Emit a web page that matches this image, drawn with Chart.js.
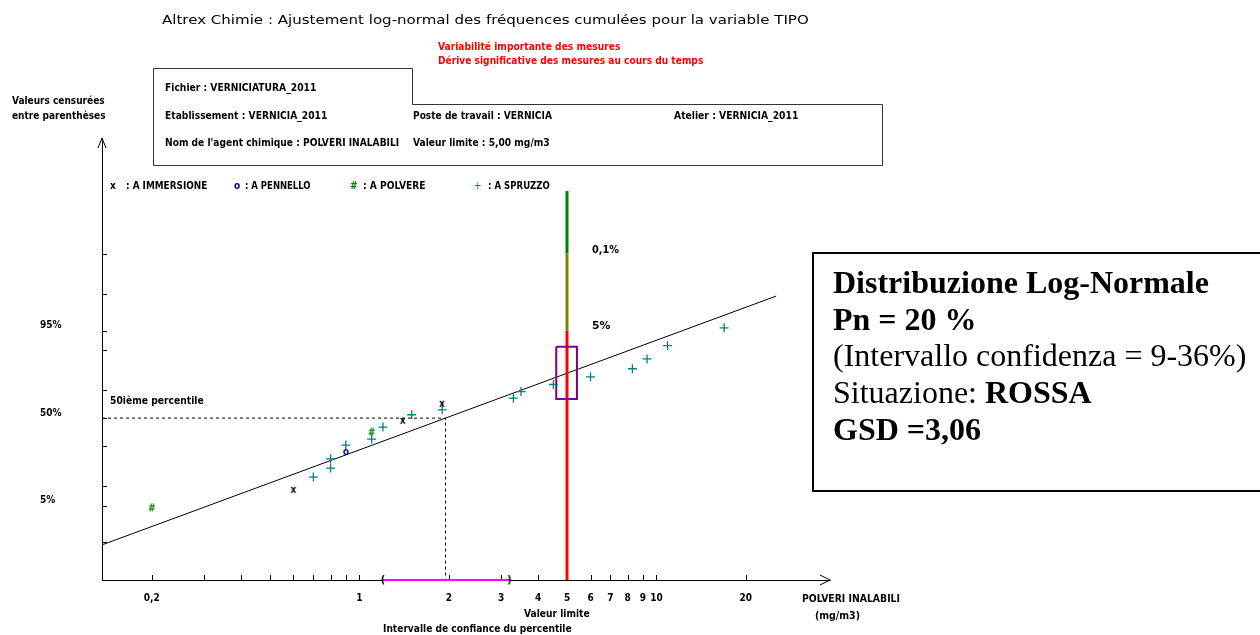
<!DOCTYPE html>
<html lang="fr">
<head>
<meta charset="utf-8">
<title>Altrex Chimie - Ajustement log-normal TIPO</title>
<script src="https://cdn.jsdelivr.net/npm/chart.js@4.4.0/dist/chart.umd.min.js"></script>
<style>
  body { margin: 0; width: 1260px; height: 635px; overflow: hidden; background: #fff; position: relative;
         font-family: "DejaVu Sans Condensed", "DejaVu Sans", sans-serif; }
  #chart { position: absolute; left: 0; top: 0; }
  .t { position: absolute; white-space: nowrap; font-size: 10px; font-weight: bold; line-height: 12px;
       color: #000; transform-origin: 0 50%; }
  .title { font-family: "DejaVu Sans", sans-serif; font-weight: normal; font-size: 13px; line-height: 16px; }
  .red { color: #ff0000; }
  #infobox { position: absolute; left: 0; top: 0; }
  #resume { position: absolute; left: 812px; top: 252px; width: 470px; height: 240px; border: 2px solid #000;
            font-family: "Liberation Serif", "Times New Roman", serif; font-size: 32px; line-height: 36.7px;
            padding: 10px 0 0 19px; box-sizing: border-box; color: #000; }
  #resume b { font-weight: bold; }
</style>
</head>
<body>
<canvas id="chart" width="1260" height="635"></canvas>

<svg id="infobox" width="1260" height="200">
  <polyline points="153.5,165.5 153.5,68.5 412.5,68.5 412.5,104.5 882.5,104.5 882.5,165.5 153.5,165.5"
            fill="none" stroke="#333" stroke-width="1"/>
</svg>

<div class="t title" style="left:162px; top:20px" data-w="646">Altrex Chimie : Ajustement log-normal des fréquences cumulées pour la variable TIPO</div>
<div class="t red" style="left:438px; top:47px" data-w="182">Variabilité importante des mesures</div>
<div class="t red" style="left:438px; top:61px" data-w="265">Dérive significative des mesures au cours du temps</div>

<div class="t" style="left:12px; top:101px" data-w="93">Valeurs censurées</div>
<div class="t" style="left:12px; top:116px" data-w="94">entre parenthèses</div>

<div class="t" style="left:165px; top:88px" data-w="151">Fichier : VERNICIATURA_2011</div>
<div class="t" style="left:165px; top:116px" data-w="162">Etablissement : VERNICIA_2011</div>
<div class="t" style="left:413px; top:116px" data-w="139">Poste de travail : VERNICIA</div>
<div class="t" style="left:674px; top:116px" data-w="124">Atelier : VERNICIA_2011</div>
<div class="t" style="left:165px; top:143px" data-w="234">Nom de l'agent chimique : POLVERI INALABILI</div>
<div class="t" style="left:413px; top:143px" data-w="137">Valeur limite : 5,00 mg/m3</div>

<div class="t" style="left:110px; top:186px">x</div>
<div class="t" style="left:126px; top:186px" data-w="81">: A IMMERSIONE</div>
<div class="t" style="left:234px; top:186px; color:#000080">o</div>
<div class="t" style="left:245px; top:186px" data-w="66">: A PENNELLO</div>
<div class="t" style="left:350px; top:186px; color:#008000">#</div>
<div class="t" style="left:363px; top:186px" data-w="63">: A POLVERE</div>
<div class="t" style="left:474px; top:186px; color:#008080; font-weight:normal">+</div>
<div class="t" style="left:488px; top:186px" data-w="62">: A SPRUZZO</div>

<div class="t" style="left:110px; top:401px" data-w="94">50ième percentile</div>
<div class="t" style="left:592px; top:250px" data-w="27">0,1%</div>
<div class="t" style="left:592px; top:326px" data-w="18">5%</div>

<div class="t" style="left:802px; top:599px" data-w="98">POLVERI INALABILI</div>
<div class="t" style="left:815px; top:616px" data-w="45">(mg/m3)</div>
<div class="t" style="left:524px; top:614px" data-w="66">Valeur limite</div>
<div class="t" style="left:383px; top:629px" data-w="189">Intervalle de confiance du percentile</div>

<div id="resume">
  <b>Distribuzione Log-Normale</b><br>
  <b>Pn = 20 %</b><br>
  (Intervallo confidenza = 9-36%)<br>
  Situazione: <b>ROSSA</b><br>
  <b>GSD =3,06</b>
</div>

<script>
// Measured concentrations (mg/m3) and cumulative frequencies (%) per work phase
const immersioneConc = [0.60, 1.4, 1.9];
const immersionePct = [8.9, 48.0, 60.6];
const pennelloConc = [0.90];
const pennelloPct = [26.2];
const polvereConc = [0.20, 1.1];
const polverePct = [4.5, 39.3];
const spruzzoConc = [0.70, 0.80, 0.80, 0.90, 1.1, 1.2, 1.5, 1.9, 3.3, 3.5, 4.5, 6.0, 8.3, 9.3, 10.9, 16.9];
const spruzzoPct = [13.4, 17.4, 22.2, 30.6, 34.7, 43.3, 52.5, 56.2, 64.6, 69.1, 73.6, 78.1, 82.3, 86.7, 91.3, 95.5];

// Fit results
const geoMean = 1.95;        // 50th percentile (mg/m3)
const gsd = 3.06;
const fitEnd = 25.3;         // last concentration drawn for the fitted line
const limitValue = 5;        // valeur limite (mg/m3)
const limitBandPct = [95, 99.9, 99.999];  // red up to 95%, olive up to 99.9%, green above
const exceedCI = [9, 36];    // confidence interval of exceedance (%)
const limitBoxConc = [4.6, 5.4];
const percentileCI = [1.2, 3.2];

// Axes
const xMin = 0.136;
const xMax = 38.4;
const zMin = -3.04;
const zMax = 5.26;
const xTickValues = [0.2, 0.3, 0.4, 0.5, 0.6, 0.7, 0.8, 0.9, 1, 2, 3, 4, 5, 6, 7, 8, 9, 10, 20];
const xTickLabels = ["0,2", "", "", "", "", "", "", "", "1", "2", "3", "4", "5", "6", "7", "8", "9", "10", "20"];
const yTickPct = [1, 5, 10, 30, 50, 70, 90, 95, 99, 99.9];
const yTickLabels = ["", "5%", "", "", "50%", "", "", "95%", "", ""];

// Inverse of the normal distribution (Acklam)
function probit(p) {
  const a = [-3.969683028665376e1, 2.209460984245205e2, -2.759285104469687e2, 1.38357751867269e2, -3.066479806614716e1, 2.506628277459239];
  const b = [-5.447609879822406e1, 1.615858368580409e2, -1.556989798598866e2, 6.680131188771972e1, -1.328068155288572e1];
  const c = [-7.784894002430293e-3, -3.223964580411365e-1, -2.400758277161838, -2.549732539343734, 4.374664141464968, 2.938163982698783];
  const d = [7.784695709041462e-3, 3.224671290700398e-1, 2.445134137142996, 3.754408661907416];
  const pl = 0.02425;
  let q, r;
  if (p < pl) {
    q = Math.sqrt(-2 * Math.log(p));
    return (((((c[0]*q+c[1])*q+c[2])*q+c[3])*q+c[4])*q+c[5]) / ((((d[0]*q+d[1])*q+d[2])*q+d[3])*q+1);
  }
  if (p > 1 - pl) {
    q = Math.sqrt(-2 * Math.log(1 - p));
    return -(((((c[0]*q+c[1])*q+c[2])*q+c[3])*q+c[4])*q+c[5]) / ((((d[0]*q+d[1])*q+d[2])*q+d[3])*q+1);
  }
  q = p - 0.5; r = q * q;
  return (((((a[0]*r+a[1])*r+a[2])*r+a[3])*r+a[4])*r+a[5])*q / (((((b[0]*r+b[1])*r+b[2])*r+b[3])*r+b[4])*r+1);
}

const toPoints = (conc, pct) => conc.map((c, i) => ({ x: c, y: probit(pct[i] / 100) }));
const fitZ = (c) => Math.log(c / geoMean) / Math.log(gsd);

// Small text glyphs used as point markers
function glyph(ch, color, font) {
  const cv = document.createElement("canvas");
  cv.width = 14; cv.height = 14;
  const g = cv.getContext("2d");
  g.font = font;
  g.fillStyle = color;
  g.textAlign = "center";
  g.textBaseline = "middle";
  g.fillText(ch, 7, 7.5);
  return cv;
}
const markX = glyph("x", "#000", "bold 10px 'DejaVu Sans Condensed'");
const markO = glyph("o", "#000080", "bold 10px 'DejaVu Sans Condensed'");
const markHash = glyph("#", "#008000", "bold 10px 'DejaVu Sans Condensed'");
const parenL = glyph("(", "#000", "bold 11px 'DejaVu Sans Condensed'");
const parenR = glyph(")", "#000", "bold 11px 'DejaVu Sans Condensed'");

// Inner ticks and axis arrows
const axisExtras = {
  id: "axisExtras",
  beforeDatasetsDraw(chart) {
    const { ctx, chartArea: a, scales: { x, y } } = chart;
    ctx.save();
    ctx.strokeStyle = "#000";
    ctx.lineWidth = 1;
    ctx.beginPath();
    x.ticks.forEach((t) => {
      const px = Math.round(x.getPixelForValue(t.value)) + 0.5;
      ctx.moveTo(px, a.bottom); ctx.lineTo(px, a.bottom - 5);
    });
    y.ticks.forEach((t) => {
      const py = Math.round(y.getPixelForValue(t.value)) + 0.5;
      ctx.moveTo(a.left, py); ctx.lineTo(a.left + 5, py);
    });
    ctx.moveTo(a.right - 10, a.bottom - 5); ctx.lineTo(a.right, a.bottom); ctx.lineTo(a.right - 10, a.bottom + 5);
    ctx.moveTo(a.left - 4, a.top + 10); ctx.lineTo(a.left, a.top); ctx.lineTo(a.left + 4, a.top + 10);
    ctx.stroke();
    ctx.restore();
  },
};

const zBand = limitBandPct.map((p) => probit(p / 100));
const lineSet = (data, color, width, extra) => Object.assign({
  type: "line", data, borderColor: color, borderWidth: width, pointRadius: 0, fill: false, order: 5,
}, extra || {});

new Chart(document.getElementById("chart"), {
  type: "scatter",
  data: {
    datasets: [
      { data: toPoints(immersioneConc, immersionePct), pointStyle: markX, order: 0 },
      { data: toPoints(pennelloConc, pennelloPct), pointStyle: markO, order: 0 },
      { data: toPoints(polvereConc, polverePct), pointStyle: markHash, order: 0 },
      { data: toPoints(spruzzoConc, spruzzoPct), pointStyle: "cross", pointRadius: 4.5,
        borderColor: "#008080", borderWidth: 1.3, order: 0 },
      // fitted log-normal line
      lineSet([{ x: xMin, y: fitZ(xMin) }, { x: fitEnd, y: fitZ(fitEnd) }], "#000", 1),
      // 50th percentile guides
      lineSet([{ x: xMin, y: 0 }, { x: geoMean, y: 0 }, { x: geoMean, y: zMin }], "#000", 1, { borderDash: [3, 3] }),
      // limit value bands
      lineSet([{ x: limitValue, y: zMin }, { x: limitValue, y: zBand[0] }], "#ff0000", 3, { order: 4 }),
      lineSet([{ x: limitValue, y: zBand[0] }, { x: limitValue, y: zBand[1] }], "#808000", 3, { order: 4 }),
      lineSet([{ x: limitValue, y: zBand[1] }, { x: limitValue, y: zBand[2] }], "#008000", 3, { order: 4 }),
      // confidence box of exceedance around the limit value
      lineSet([
        { x: limitBoxConc[0], y: probit(1 - exceedCI[0] / 100) },
        { x: limitBoxConc[1], y: probit(1 - exceedCI[0] / 100) },
        { x: limitBoxConc[1], y: probit(1 - exceedCI[1] / 100) },
        { x: limitBoxConc[0], y: probit(1 - exceedCI[1] / 100) },
        { x: limitBoxConc[0], y: probit(1 - exceedCI[0] / 100) },
      ], "#800080", 2, { order: 3 }),
      // confidence interval of the percentile on the x axis
      lineSet([{ x: percentileCI[0], y: zMin }, { x: percentileCI[1], y: zMin }], "#ff00ff", 2,
        { order: 2, clip: false }),
      { data: [{ x: percentileCI[0], y: zMin }, { x: percentileCI[1], y: zMin }],
        pointStyle: [parenL, parenR], order: 1, clip: false },
    ],
  },
  options: {
    responsive: false,
    animation: false,
    events: [],
    layout: { padding: { left: 40, right: 430, top: 138, bottom: 25 } },
    plugins: { legend: { display: false }, tooltip: { enabled: false } },
    scales: {
      x: {
        type: "logarithmic",
        min: xMin,
        max: xMax,
        afterBuildTicks: (s) => { s.ticks = xTickValues.map((v) => ({ value: v })); },
        afterFit: (s) => { s.height = 30; },
        grid: { display: false, drawTicks: false },
        border: { display: true, color: "#000", width: 1 },
        ticks: {
          autoSkip: false, maxRotation: 0, padding: 12, color: "#000",
          font: { family: "DejaVu Sans Condensed", size: 10, weight: "bold" },
          callback: (v, i) => xTickLabels[i],
        },
      },
      y: {
        min: zMin,
        max: zMax,
        afterBuildTicks: (s) => { s.ticks = yTickPct.map((p) => ({ value: probit(p / 100) })); },
        afterFit: (s) => { s.width = 62; },
        grid: { display: false, drawTicks: false },
        border: { display: true, color: "#000", width: 1 },
        ticks: {
          autoSkip: false, crossAlign: "far", labelOffset: -5, color: "#000",
          font: { family: "DejaVu Sans Condensed", size: 10, weight: "bold" },
          callback: (v, i) => yTickLabels[i],
        },
      },
    },
  },
  plugins: [axisExtras],
});

// squeeze text runs to the widths of the original layout
document.querySelectorAll(".t").forEach((el) => {
  const w = parseFloat(el.dataset.w);
  const sx = w ? w / el.scrollWidth : 1;
  el.style.transform = `translateY(-50%) scaleX(${sx.toFixed(3)})`;
});
</script>
</body>
</html>
